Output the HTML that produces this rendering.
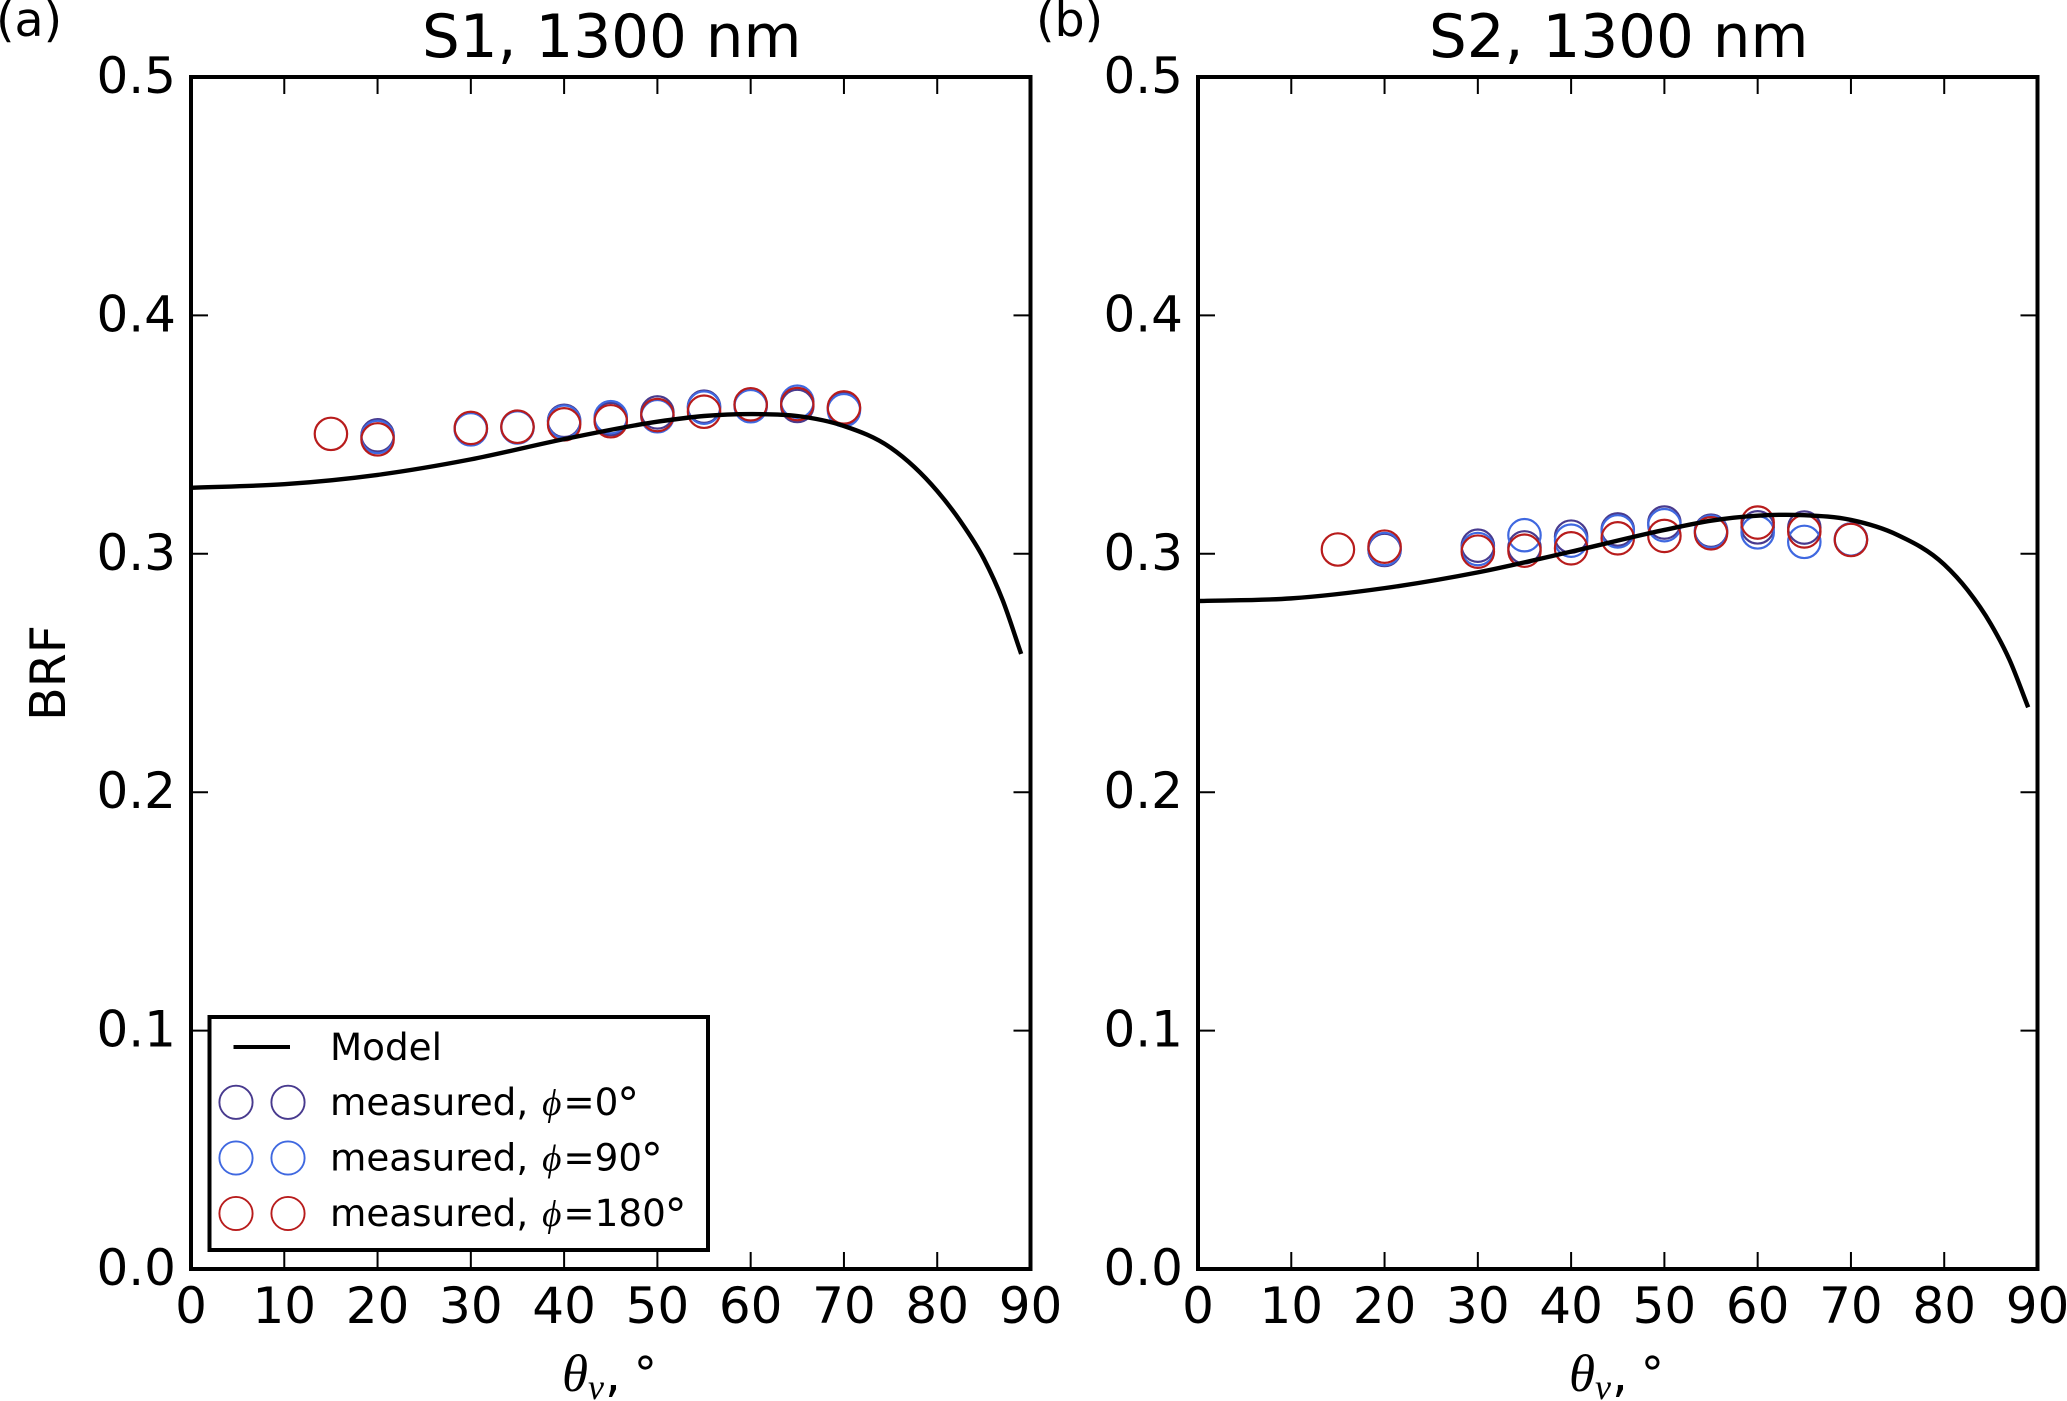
<!DOCTYPE html>
<html>
<head>
<meta charset="utf-8">
<style>
html,body{margin:0;padding:0;background:#fff;}
svg{display:block;}
text{font-family:"DejaVu Sans","Liberation Sans",sans-serif;fill:#000;}
.math{font-family:"Liberation Serif","DejaVu Serif",serif;font-style:italic;}
</style>
</head>
<body>
<svg id="fig" xmlns="http://www.w3.org/2000/svg" width="2067" height="1401" viewBox="0 0 2067 1401"></svg>
<script>
const xTicks = [0,10,20,30,40,50,60,70,80,90];
const yTicks = [0.0,0.1,0.2,0.3,0.4,0.5];
const modelAngles = [0,10,20,30,40,50,55,60,65,70,75,80,82.5,85,87,89];
const s1Model = [0.3277,0.3292,0.3331,0.3396,0.3481,0.3554,0.3578,0.3586,0.3578,0.3536,0.3445,0.3263,0.3136,0.2979,0.2807,0.2580];
const s2Model = [0.2802,0.2813,0.2856,0.2922,0.3009,0.3100,0.3139,0.3160,0.3162,0.3142,0.3079,0.2955,0.2848,0.2705,0.2555,0.2356];
const angles0 = [20,30,35,40,45,50,55,60,65,70];
const angles90 = [20,30,35,40,45,50,55,60,65,70];
const angles180 = [15,20,30,35,40,45,50,55,60,65,70];
const s1Phi0 = [0.3497,0.3525,0.3532,0.3558,0.3565,0.3593,0.3617,0.3625,0.3620,0.3610];
const s1Phi90 = [0.3490,0.3522,0.3530,0.3554,0.3573,0.3577,0.3613,0.3619,0.3638,0.3602];
const s1Phi180 = [0.3503,0.3480,0.3528,0.3533,0.3543,0.3556,0.3582,0.3596,0.3627,0.3628,0.3614];
const s2Phi0 = [0.3016,0.3034,0.3027,0.3072,0.3102,0.3131,0.3097,0.3111,0.3110,0.3060];
const s2Phi90 = [0.3020,0.3020,0.3078,0.3055,0.3094,0.3120,0.3093,0.3090,0.3050,0.3060];
const s2Phi180 = [0.3018,0.3030,0.3009,0.3013,0.3023,0.3065,0.3075,0.3086,0.3131,0.3094,0.3058];
const panelTitles = ["S1, 1300 nm","S2, 1300 nm"];
const panelLetters = ["(a)","(b)"];
const legendLabels = ["0","90","180"];

const NAVY = "#483a8e", BLUE = "#3f68e0", RED = "#b81c1c";
const svg = document.getElementById('fig');
const NS = "http://www.w3.org/2000/svg";
const TOP = 77, BOTTOM = 1269, WIDTH = 839.5;

function make(tag, attrs, parent, txt){
  const el = document.createElementNS(NS, tag);
  for (const k in attrs) el.setAttribute(k, attrs[k]);
  if (txt !== undefined) el.textContent = txt;
  (parent || svg).appendChild(el);
  return el;
}
function sy(v){ return BOTTOM - (v / 0.5) * (BOTTOM - TOP); }

function drawPanel(left, idx, model, phi0, phi90, phi180){
  const sx = v => left + (v / 90) * WIDTH;
  const g = make('g', {});
  
  

  const groups = [[angles0, phi0, NAVY, 'phi-0'], [angles90, phi90, BLUE, 'phi-90'], [angles180, phi180, RED, 'phi-180']];
  groups.forEach(function(s){
    s[0].forEach(function(a, i){
      const c = make('circle', {cx: sx(a), cy: sy(s[1][i]), r: 16.2, fill: 'none', stroke: s[2], 'stroke-width': 2.2}, g);
      
      
    });
  });

  // model curve: smooth path through the read values (weighted-tangent spline)
  const n = modelAngles.length;
  const px = modelAngles.map(sx);
  const py = model.map(sy);
  const slope = i => {
    if (i === 0) return (py[1] - py[0]) / (px[1] - px[0]);
    if (i === n - 1) return (py[n - 1] - py[n - 2]) / (px[n - 1] - px[n - 2]);
    const h0 = px[i] - px[i - 1], h1 = px[i + 1] - px[i];
    const d0 = (py[i] - py[i - 1]) / h0, d1 = (py[i + 1] - py[i]) / h1;
    return (h1 * d0 + h0 * d1) / (h0 + h1);
  };
  let d = 'M' + px[0] + ' ' + py[0];
  for (let i = 0; i < n - 1; i++){
    const h = (px[i + 1] - px[i]) / 3;
    d += ' C' + (px[i] + h) + ' ' + (py[i] + slope(i) * h) + ' ' + (px[i + 1] - h) + ' ' + (py[i + 1] - slope(i + 1) * h) + ' ' + px[i + 1] + ' ' + py[i + 1];
  }
  const line = make('path', {d: d, fill: 'none', stroke: '#000', 'stroke-width': 4.4}, g);
  
  

  // ticks
  xTicks.forEach(function(t){
    const x = sx(t);
    if (t > 0 && t < 90){
      const a = make('line', {x1: x, x2: x, y1: BOTTOM, y2: BOTTOM - 17, stroke: '#000', 'stroke-width': 2}, g);
      
      
      const b = make('line', {x1: x, x2: x, y1: TOP, y2: TOP + 17, stroke: '#000', 'stroke-width': 2}, g);
      
      
    }
    const l = make('text', {x: x, y: 1323, 'text-anchor': 'middle', 'font-size': 50}, g, String(t));
    
    
  });
  yTicks.forEach(function(t){
    const y = sy(t);
    if (t > 0 && t < 0.5){
      const a = make('line', {x1: left, x2: left + 17, y1: y, y2: y, stroke: '#000', 'stroke-width': 2}, g);
      
      
      const b = make('line', {x1: left + WIDTH, x2: left + WIDTH - 17, y1: y, y2: y, stroke: '#000', 'stroke-width': 2}, g);
      
      
    }
    const l = make('text', {x: left - 15, y: y + 16, 'text-anchor': 'end', 'font-size': 50}, g, t.toFixed(1));
    
    
  });

  const frame = make('rect', {x: left, y: TOP, width: WIDTH, height: BOTTOM - TOP, fill: 'none', stroke: '#000', 'stroke-width': 4}, g);
  
  

  const title = make('text', {x: left + WIDTH / 2 + 1, y: 57, 'text-anchor': 'middle', 'font-size': 59.5}, g, panelTitles[idx]);
  
  

  const letter = make('text', {x: idx === 0 ? -4 : 1036, y: 36, 'font-size': 47.5}, g, panelLetters[idx]);
  
  

  // x-axis title
  const xt = make('text', {x: left + 371, y: 1391, 'font-size': 53}, g);
  
  
  make('tspan', {class: 'math'}, xt, 'θ');
  make('tspan', {class: 'math', 'font-size': 36, dy: 8}, xt, 'v');
  make('tspan', {'font-size': 50, dy: -8, dx: 1}, xt, ',');
  make('tspan', {'font-size': 46, dx: 10, dy: -14}, xt, '∘');
}

drawPanel(191, 0, s1Model, s1Phi0, s1Phi90, s1Phi180);
drawPanel(1198, 1, s2Model, s2Phi0, s2Phi90, s2Phi180);

const yTitle = make('text', {transform: 'translate(65,673) rotate(-90)', 'text-anchor': 'middle', 'font-size': 49}, svg, 'BRF');



// legend
const lg = make('g', {});


const box = make('rect', {x: 209.5, y: 1017, width: 498.5, height: 233, fill: '#fff', stroke: '#000', 'stroke-width': 4}, lg);


const lm = make('line', {x1: 233.5, x2: 290, y1: 1047, y2: 1047, stroke: '#000', 'stroke-width': 4}, lg);


const lmt = make('text', {x: 330, y: 1060, 'font-size': 37.3}, lg, 'Model');


[[NAVY, 1102.3, 1115], [BLUE, 1158, 1170.7], [RED, 1213.5, 1226]].forEach(function(r, i){
  [236, 288].forEach(function(cx){
    const c = make('circle', {cx: cx, cy: r[1], r: 16.6, fill: 'none', stroke: r[0], 'stroke-width': 1.9}, lg);
    
    
  });
  const t = make('text', {x: 330, y: r[2], 'font-size': 37.3}, lg);
  
  
  make('tspan', {}, t, 'measured, ');
  make('tspan', {class: 'math', dx: 2}, t, 'ϕ');
  make('tspan', {dx: 2}, t, '=' + legendLabels[i]);
  make('tspan', {'font-size': 44, dy: -8, dx: -4}, t, '∘');
});
</script>
</body>
</html>
